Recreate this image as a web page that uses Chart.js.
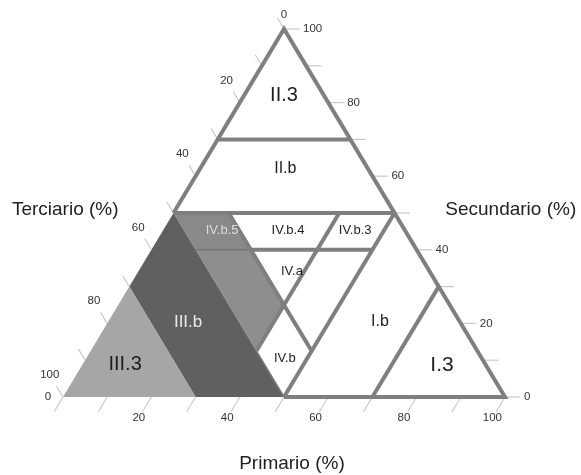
<!DOCTYPE html>
<html>
<head>
<meta charset="utf-8">
<script src="https://cdn.jsdelivr.net/npm/chart.js@4.4.1/dist/chart.umd.min.js"></script>
<style>
  html, body { margin: 0; background: #fff; }
  #wrap { width: 581px; height: 475px; }
</style>
</head>
<body>
<div id="wrap"><canvas id="tern" width="581" height="475"></canvas></div>
<script>
// ─── Datos (puntos ternarios = [primario, secundario, terciario]) ───
const axisTitles  = ['Primario (%)', 'Secundario (%)', 'Terciario (%)'];
const tickLabels  = [0, 20, 40, 60, 80, 100];
const minorTicks  = [10, 30, 50, 70, 90];

const shadeIII3  = [[0, 30, 70], [0, 0, 100], [30, 0, 70]];
const shadeIIIb  = [[0, 50, 50], [0, 30, 70], [30, 0, 70], [50, 0, 50]];
const shadeIVb5  = [[0, 50, 50], [12.5, 50, 37.5], [22.5, 40, 37.5], [10, 40, 50]];
const shadeIVgr  = [[10, 40, 50], [22.5, 40, 37.5], [37.5, 25, 37.5], [37.5, 12.5, 50]];

const outline    = [[0, 50, 50], [0, 100, 0], [100, 0, 0], [50, 0, 50]];
const cutLines   = [
  [[0, 70, 30], [30, 70, 0]],          // S = 70
  [[0, 50, 50], [50, 50, 0]],          // S = 50
  [[22.5, 40, 37.5], [50, 40, 10]],    // S = 40
  [[12.5, 50, 37.5], [50, 12.5, 37.5]],// T = 37.5
  [[37.5, 50, 12.5], [37.5, 12.5, 50]],// P = 37.5
  [[50, 50, 0], [50, 0, 50]],          // P = 50
  [[70, 30, 0], [70, 0, 30]],          // P = 70
];
const thinLines  = [
  [[37.5, 12.5, 50], [50, 0, 50]],
  [[10, 40, 50], [22.5, 40, 37.5]],
];

const regionNames = ['II.3', 'II.b', 'IV.b.5', 'IV.b.4', 'IV.b.3', 'IV.a', 'III.b', 'III.3', 'IV.b', 'I.b', 'I.3'];
const regionAt    = [[9, 82, 9], [19.3, 62, 18.7], [13.3, 45.4, 41.3], [28.2, 45.4, 26.4], [43.4, 45.4, 11.2],
                     [34.8, 34, 31.2], [18.1, 20.4, 61.5], [9.7, 8.7, 81.6], [44.9, 10.6, 44.5], [61.5, 20.4, 18.1], [81.4, 8.7, 9.9]];

// ─── Estilo ───
const LINE = '#7f7f7f';
const FONT = 'Arial, "Liberation Sans", sans-serif';
const regionFont  = [20, 16, 13, 13, 13, 13, 17, 20, 13, 16, 21];
const regionColor = ['#1e1e1e', '#1e1e1e', '#dcdcdc', '#1e1e1e', '#1e1e1e', '#1e1e1e', '#e8e8e8', '#1e1e1e', '#1e1e1e', '#1e1e1e', '#1e1e1e'];

const toXY = ([p, s]) => ({ x: p + s / 2, y: s });

function polyDS(pts, color) {
  return {
    data: pts.concat([pts[0]]).map(toXY),
    showLine: true, fill: 'shape', backgroundColor: color,
    borderWidth: 0, pointRadius: 0, order: 3, clip: false,
  };
}
function lineDS(pts, color, width, order) {
  return {
    data: pts.map(toXY), showLine: true, fill: false,
    borderColor: color, borderWidth: width, pointRadius: 0,
    order, clip: false, borderJoinStyle: 'miter',
  };
}

// ticks (segmentos hacia fuera de cada lado)
const tickSegs = [];
tickLabels.concat(minorTicks).forEach(v => {
  tickSegs.push([[0, 100 - v, v], [-3, 103 - v, v]]);        // terciario
  tickSegs.push([[100 - v, v, 0], [103.5 - v, v, -3.5]]);    // secundario
  tickSegs.push([[v, 0, 100 - v], [v, -4, 104 - v]]);        // primario
});

const datasets = [
  polyDS(shadeIII3, '#a6a6a6'),
  polyDS(shadeIIIb, '#606060'),
  polyDS(shadeIVb5, '#898989'),
  polyDS(shadeIVgr, '#8e8e8e'),
  ...tickSegs.map(s => lineDS(s, '#c9c9c9', 1.2, 2)),
  ...thinLines.map(s => lineDS(s, '#777777', 1.5, 1)),
  ...cutLines.map(s => lineDS(s, LINE, 4, 0)),
  lineDS(outline, LINE, 4, 0),
];

// ─── Textos ───
const textPlugin = {
  id: 'ternaryText',
  afterDatasetsDraw(chart) {
    const { ctx, scales: { x, y } } = chart;
    const px = t => { const p = toXY(t); return [x.getPixelForValue(p.x), y.getPixelForValue(p.y)]; };
    ctx.save();
    ctx.textBaseline = 'middle';

    // etiquetas de ticks
    ctx.font = `11.5px ${FONT}`;
    ctx.fillStyle = '#333';
    tickLabels.forEach(v => {
      let [a, b] = px([-6, 106 - v, v]);
      ctx.textAlign = 'center';
      if (v === 0) { [a, b] = px([0, 100, 0]); b -= 14; }
      ctx.fillText(String(v), a, b);                   // terciario

      [a, b] = px([104.3 - v, v, -4.3]);
      ctx.textAlign = 'left';
      ctx.fillText(String(v), a, b);                   // secundario

      ctx.textAlign = 'center';
      if (v === 0) {
        [a, b] = px([0, 0, 100]);
        ctx.fillText('0', a - 15, b);
      } else {
        [a, b] = px([v, -5.7, 105.7 - v]);
        ctx.fillText(String(v), a, b);                 // primario
      }
    });

    // títulos de ejes
    ctx.font = `19px ${FONT}`;
    ctx.fillStyle = '#222';
    ctx.textAlign = 'center';
    ctx.fillText(axisTitles[0], x.getPixelForValue(51.8), y.getPixelForValue(-18.2));
    ctx.fillText(axisTitles[1], x.getPixelForValue(101.3), y.getPixelForValue(50.8));
    ctx.fillText(axisTitles[2], x.getPixelForValue(0.5), y.getPixelForValue(50.8));

    // nombres de regiones
    regionNames.forEach((name, i) => {
      const [a, b] = px(regionAt[i]);
      ctx.font = `${regionFont[i]}px ${FONT}`;
      ctx.fillStyle = regionColor[i];
      ctx.fillText(name, a, b);
    });
    ctx.restore();
  },
};

new Chart(document.getElementById('tern'), {
  type: 'scatter',
  data: { datasets },
  options: {
    responsive: false, animation: false,
    layout: { padding: { left: 63, right: 76, top: 29, bottom: 78 } },
    scales: {
      x: { type: 'linear', min: 0, max: 100, display: false },
      y: { type: 'linear', min: 0, max: 100, display: false },
    },
    plugins: { legend: { display: false }, tooltip: { enabled: false } },
  },
  plugins: [textPlugin],
});
</script>
</body>
</html>
